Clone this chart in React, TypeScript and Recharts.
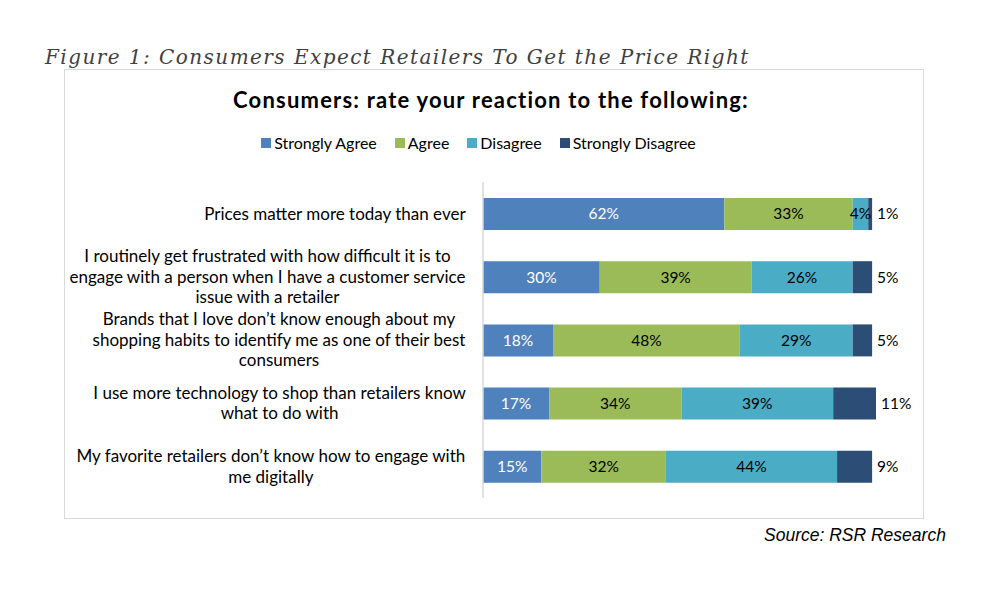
import React from 'react';
import { BarChart, Bar, XAxis, YAxis, LabelList } from 'recharts';

const categories = [
  'Prices matter more today than ever',
  'I routinely get frustrated with how difficult it is to\nengage with a person when I have a customer service\nissue with a retailer',
  'Brands that I love don\u2019t know enough about my\nshopping habits to identify me as one of their best\nconsumers',
  'I use more technology to shop than retailers know\nwhat to do with',
  'My favorite retailers don\u2019t know how to engage with\nme digitally',
];
const stronglyAgree = [62, 30, 18, 17, 15];
const agree = [33, 39, 48, 34, 32];
const disagree = [4, 26, 29, 39, 44];
const stronglyDisagree = [1, 5, 5, 11, 9];
const seriesNames = ['Strongly Agree', 'Agree', 'Disagree', 'Strongly Disagree'];
const seriesKeys = ['sa', 'a', 'd', 'sd'];
const seriesColors = ['#4f81bd', '#9bbb59', '#4bacc6', '#2c4d75'];

const data = categories.map((name, i) => ({
  name,
  sa: stronglyAgree[i],
  a: agree[i],
  d: disagree[i],
  sd: stronglyDisagree[i],
}));

const FONT = 'Lato, "Open Sans", sans-serif';
const TICK_SIZE = 17;

let ctx: CanvasRenderingContext2D | null = null;
function measure(t: string): number {
  if (!ctx) ctx = document.createElement('canvas').getContext('2d');
  if (!ctx) return t.length * 7.8;
  ctx.font = `${TICK_SIZE}px Lato`;
  return ctx.measureText(t).width;
}

const CategoryTick = (props: any) => {
  const { x, y, payload } = props;
  const lines = String(payload.value).split('\n');
  const maxW = Math.max(...lines.map((l) => measure(l)));
  const cx = x - maxW / 2;
  const lh = 20.5;
  const startY = y - ((lines.length - 1) * lh) / 2;
  return (
    <text textAnchor="middle" fontFamily={FONT} fontSize={TICK_SIZE} fill="#000">
      {lines.map((l, i) => (
        <tspan key={i} x={cx} y={startY + i * lh} dy="0.35em">
          {l}
        </tspan>
      ))}
    </text>
  );
};

const makeInsideLabel = (color: string) => (props: any) => {
  const { x, y, width, height, value } = props;
  return (
    <text
      x={x + width / 2}
      y={y + height / 2}
      dy="0.35em"
      textAnchor="middle"
      fontFamily={FONT}
      fontSize={15.5}
      fill={color}
    >
      {`${value}%`}
    </text>
  );
};

const OutsideLabel = (props: any) => {
  const { x, y, width, height, value } = props;
  return (
    <text
      x={x + width + 5}
      y={y + height / 2}
      dy="0.35em"
      textAnchor="start"
      fontFamily={FONT}
      fontSize={15.5}
      fill="#000"
    >
      {`${value}%`}
    </text>
  );
};

export default function App() {
  return (
    <div style={{ position: 'absolute', left: 0, top: 0, width: 1000, height: 601, background: '#fff' }}>
      <div
        style={{
          position: 'absolute',
          left: 45,
          top: 42,
          fontFamily: '"DejaVu Serif", serif',
          fontStyle: 'italic',
          fontSize: 20,
          letterSpacing: 1.45,
          color: '#404040',
          whiteSpace: 'nowrap',
          lineHeight: '30px',
        }}
      >
        Figure 1: Consumers Expect Retailers To Get the Price Right
      </div>
      <div
        style={{
          position: 'absolute',
          left: 64,
          top: 69,
          width: 860,
          height: 450,
          border: '1.5px solid #d9d9d9',
          boxSizing: 'border-box',
        }}
      />
      <div
        style={{
          position: 'absolute',
          left: 0,
          width: 982,
          top: 86,
          textAlign: 'center',
          fontFamily: FONT,
          fontWeight: 700,
          fontSize: 22,
          letterSpacing: 1.2,
          lineHeight: '28px',
          color: '#000',
        }}
      >
        Consumers: rate your reaction to the following:
      </div>
      <div
        style={{
          position: 'absolute',
          left: 0,
          width: 957,
          top: 132,
          display: 'flex',
          justifyContent: 'center',
          alignItems: 'center',
          fontFamily: FONT,
          fontSize: 16,
          lineHeight: '22px',
          color: '#000',
        }}
      >
        {seriesNames.map((n, i) => (
          <div key={n} style={{ display: 'flex', alignItems: 'center', marginRight: i < 3 ? 18 : 0 }}>
            <span style={{ display: 'inline-block', width: 10, height: 10, background: seriesColors[i], marginRight: 3 }} />
            <span>{n}</span>
          </div>
        ))}
      </div>
      <div style={{ position: 'absolute', left: 0, top: 0 }}>
        <BarChart
          width={1000}
          height={601}
          data={data}
          layout="vertical"
          margin={{ top: 182, right: 124, bottom: 103, left: 0 }}
          barSize={32}
        >
          <XAxis type="number" domain={[0, 101]} hide />
          <YAxis
            type="category"
            dataKey="name"
            width={483}
            axisLine={{ stroke: '#d9d9d9', strokeWidth: 1.5 }}
            tickLine={false}
            tickSize={0}
            tickMargin={17}
            tick={<CategoryTick />}
            interval={0}
          />
          {seriesKeys.map((k, i) => (
            <Bar key={k} dataKey={k} name={seriesNames[i]} stackId="s" fill={seriesColors[i]} isAnimationActive={false}>
              {i < 3 ? (
                <LabelList dataKey={k} content={makeInsideLabel(i === 0 ? '#ffffff' : '#000000')} />
              ) : (
                <LabelList dataKey={k} content={<OutsideLabel />} />
              )}
            </Bar>
          ))}
        </BarChart>
      </div>
      <div
        style={{
          position: 'absolute',
          left: 764,
          top: 524,
          fontFamily: '"Liberation Sans", Arial, sans-serif',
          fontStyle: 'italic',
          fontSize: 17.5,
          lineHeight: '22px',
          color: '#000',
          whiteSpace: 'nowrap',
        }}
      >
        Source: RSR Research
      </div>
    </div>
  );
}
